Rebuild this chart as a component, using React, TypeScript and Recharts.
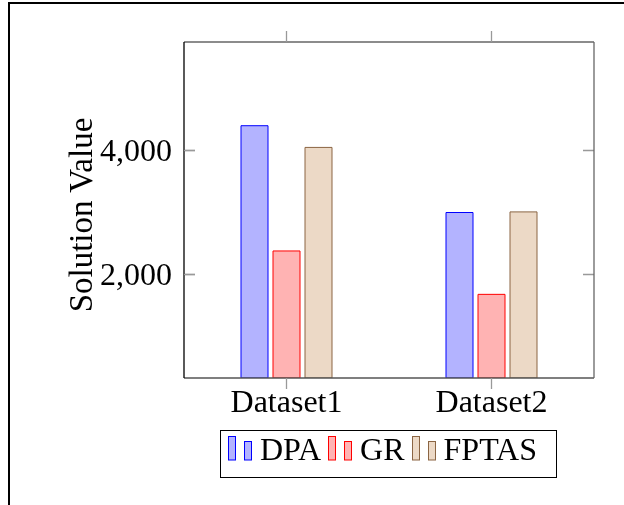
import React from 'react';
import { BarChart, Bar, XAxis, YAxis, Label, ReferenceLine } from 'recharts';

const categories = ['Dataset1', 'Dataset2'];
const dpaValues = [4400, 3000];
const grValues = [2380, 1680];
const fptasValues = [4050, 3010];
const yTicks = [2000, 4000];
const yDomain = [331, 5750];

const seriesDefs = [
  { key: 'DPA', name: 'DPA', values: dpaValues, fill: '#b3b3ff', stroke: '#0000ff' },
  { key: 'GR', name: 'GR', values: grValues, fill: '#ffb3b3', stroke: '#ff0000' },
  { key: 'FPTAS', name: 'FPTAS', values: fptasValues, fill: '#ecd9c6', stroke: '#8b6543' },
];

const data = categories.map((c, i) => {
  const row: any = { name: c };
  seriesDefs.forEach((s) => {
    row[s.key] = s.values[i];
  });
  return row;
});

const FONT = "'Liberation Serif', serif";
const TICK_GRAY = '#999999';

const fmt = (v: number) => v.toLocaleString('en-US');

const LeftTick = (props: any) => {
  const { x, y, payload } = props;
  return (
    <text x={x} y={y} dy={10.5} textAnchor="end" fontFamily={FONT} fontSize={32} fill="#000">
      {fmt(payload.value)}
    </text>
  );
};

const BottomTick = (props: any) => {
  const { x, y, payload } = props;
  return (
    <text x={x} y={y} dy={23} textAnchor="middle" fontFamily={FONT} fontSize={32} fill="#000">
      {payload.value}
    </text>
  );
};

const LegendIcon = ({ fill, stroke }: { fill: string; stroke: string }) => (
  <svg width={25} height={46} style={{ display: 'block', flex: 'none' }}>
    <rect x={0.5} y={5.5} width={7} height={23.5} fill={fill} stroke={stroke} strokeWidth={1} />
    <rect x={16.5} y={10.5} width={7} height={18.5} fill={fill} stroke={stroke} strokeWidth={1} />
  </svg>
);

export default function App() {
  return (
    <div>
      <div style={{ position: 'fixed', left: 0, top: 0 }}>
        <BarChart
          width={624}
          height={505}
          data={data}
          margin={{ top: 41, right: 29, bottom: 0, left: 0 }}
          barSize={27}
          barGap={5}
        >
          <XAxis
            xAxisId="bottom"
            dataKey="name"
            orientation="bottom"
            height={127}
            tickSize={11}
            tickMargin={0}
            tickLine={{ stroke: TICK_GRAY, strokeWidth: 1.3 }}
            axisLine={{ stroke: '#555', strokeWidth: 1.3 }}
            tick={<BottomTick />}
            interval={0}
          />
          <XAxis
            xAxisId="top"
            dataKey="name"
            orientation="top"
            height={1}
            tickSize={11}
            tickLine={{ stroke: TICK_GRAY, strokeWidth: 1.3 }}
            axisLine={{ stroke: '#666', strokeWidth: 1.3 }}
            tickFormatter={() => ''}
            interval={0}
          />
          <YAxis
            yAxisId="left"
            orientation="left"
            width={184}
            type="number"
            domain={yDomain}
            allowDataOverflow
            ticks={yTicks}
            interval={0}
            tickSize={-11}
            tickMargin={23}
            tickLine={{ stroke: TICK_GRAY, strokeWidth: 1.3 }}
            axisLine={{ stroke: '#000', strokeWidth: 1.3 }}
            tick={<LeftTick />}
          >
            <Label
              content={(p: any) => {
                const vb = p.viewBox || { x: 0, y: 42, width: 184, height: 336 };
                const cx = vb.x + 92;
                const cy = vb.y + vb.height / 2 + 5;
                return (
                  <text
                    x={cx}
                    y={cy}
                    transform={`rotate(-90, ${cx}, ${cy})`}
                    textAnchor="middle"
                    fontFamily={FONT}
                    fontSize={33}
                    fill="#000"
                  >
                    Solution Value
                  </text>
                );
              }}
            />
          </YAxis>
          <YAxis
            yAxisId="right"
            orientation="right"
            width={1}
            type="number"
            domain={yDomain}
            allowDataOverflow
            ticks={yTicks}
            tickLine={false}
            tick={false}
            axisLine={{ stroke: '#666', strokeWidth: 1.3 }}
          />
          {yTicks.map((t) => (
            <ReferenceLine
              key={`yt-${t}`}
              y={t}
              xAxisId="bottom"
              yAxisId="left"
              stroke={TICK_GRAY}
              strokeWidth={1.3}
              strokeDasharray="11 388 11"
            />
          ))}
          {seriesDefs.map((s) => (
            <Bar
              key={s.key}
              dataKey={s.key}
              name={s.name}
              xAxisId="bottom"
              yAxisId="left"
              fill={s.fill}
              stroke={s.stroke}
              strokeWidth={1}
              isAnimationActive={false}
            />
          ))}
        </BarChart>
      </div>
      <div
        style={{
          position: 'fixed',
          left: 220,
          top: 430,
          width: 337,
          height: 48,
          boxSizing: 'border-box',
          border: '1px solid #000',
          display: 'flex',
          alignItems: 'flex-start',
          paddingLeft: 7,
          fontFamily: FONT,
          fontSize: 32,
          lineHeight: '36.4px',
          background: '#fff',
        }}
      >
        {seriesDefs.map((s, i) => (
          <div key={s.key} style={{ display: 'flex', alignItems: 'flex-start', marginLeft: i === 0 ? 0 : 7 }}>
            <LegendIcon fill={s.fill} stroke={s.stroke} />
            <span style={{ marginLeft: 7, whiteSpace: 'nowrap' }}>{s.name}</span>
          </div>
        ))}
      </div>
      <div
        style={{
          position: 'fixed',
          left: 8,
          top: 2,
          width: 616,
          height: 503,
          boxSizing: 'border-box',
          borderTop: '2px solid #000',
          borderLeft: '2px solid #000',
          pointerEvents: 'none',
        }}
      />
    </div>
  );
}
